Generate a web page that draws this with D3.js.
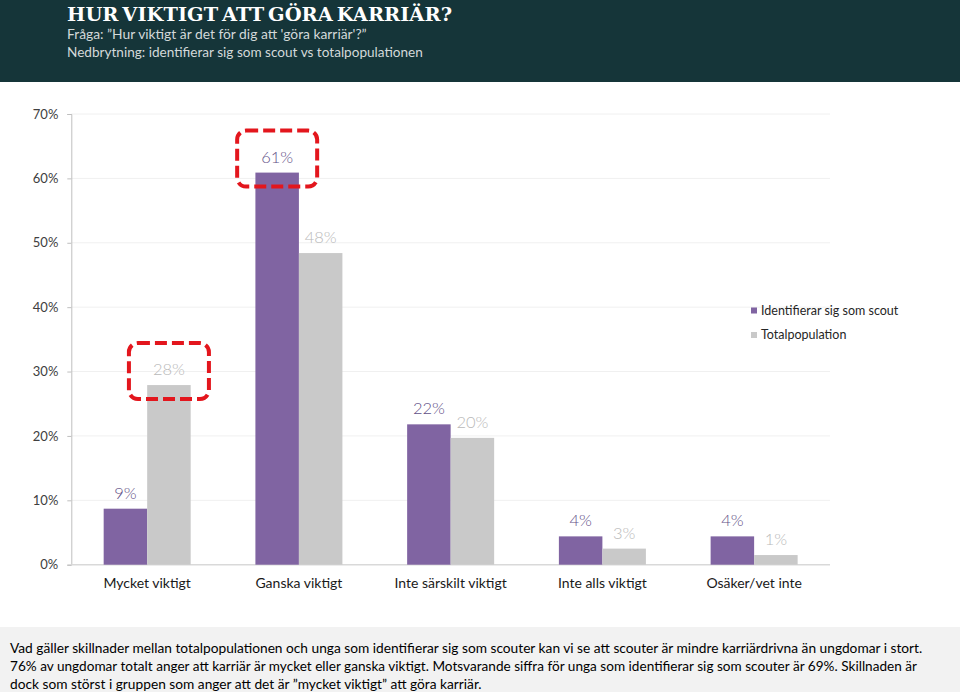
<!DOCTYPE html>
<html>
<head>
<meta charset="utf-8">
<script src="https://cdn.jsdelivr.net/npm/d3@7"></script>
<style>
  html, body { margin: 0; padding: 0; background: #fff; }
  svg { display: block; }
</style>
</head>
<body>
<svg id="chart" width="960" height="692"></svg>
<script>
// ---- data ----
const categories = ["Mycket viktigt", "Ganska viktigt", "Inte särskilt viktigt", "Inte alls viktigt", "Osäker/vet inte"];
const seriesNames = ["Identifierar sig som scout", "Totalpopulation"];
const scoutValues = [0.087, 0.609, 0.218, 0.044, 0.044];
const totalValues = [0.279, 0.484, 0.197, 0.025, 0.015];
const scoutLabels = ["9%", "61%", "22%", "4%", "4%"];
const totalLabels = ["28%", "48%", "20%", "3%", "1%"];
const yTicks = [0, 0.1, 0.2, 0.3, 0.4, 0.5, 0.6, 0.7];
const highlights = [ {category: "Mycket viktigt", series: "Totalpopulation"}, {category: "Ganska viktigt", series: "Identifierar sig som scout"} ];

const titleText = "HUR VIKTIGT ATT GÖRA KARRIÄR?";
const subtitleLines = ["Fråga: \u201DHur viktigt är det för dig att 'göra karriär'?\u201D", "Nedbrytning: identifierar sig som scout vs totalpopulationen"];
const footerLines = [
  "Vad gäller skillnader mellan totalpopulationen och unga som  identifierar sig som scouter kan vi se att scouter är mindre karriärdrivna än ungdomar i stort.",
  "76% av ungdomar totalt anger att karriär är mycket eller ganska viktigt. Motsvarande siffra för unga som identifierar sig som scouter är 69%. Skillnaden är",
  "dock som störst i gruppen som anger att det är \u201Dmycket viktigt\u201D att göra karriär."
];

// ---- build ----
(function () {
const svg = d3.select("#chart");
const W = 960, H = 692;
const colors = {"Identifierar sig som scout": "#8064a2", "Totalpopulation": "#c9c9c9"};
const labelColors = {"Identifierar sig som scout": "#5f5087", "Totalpopulation": "#b9b9b9"};
const font = "Lato, 'Open Sans', sans-serif";

// fit a text to a target width by adjusting its font size
function fitText(sel, target, baseSize) {
  sel.attr("font-size", baseSize);
  const w = sel.node().getComputedTextLength();
  const fs = Math.min(baseSize, baseSize * target / w);
  sel.attr("font-size", fs);
  const w2 = sel.node().getComputedTextLength();
  if (Math.abs(w2 - target) > 1 && w2 < target) {
    sel.attr("textLength", target).attr("lengthAdjust", "spacing");
  }
}

// header
svg.append("rect").attr("x", 0).attr("y", 0).attr("width", W).attr("height", 82).attr("fill", "#153539");
const title = svg.append("text").attr("x", 67).attr("y", 21)
  .attr("font-family", "'DejaVu Serif', serif").attr("font-weight", "bold")
  .attr("fill", "#ffffff").attr("word-spacing", -3).text(titleText);
fitText(title, 385, 21);
const subW = [300, 356];
subtitleLines.forEach((t, i) => {
  const s = svg.append("text").attr("x", 67).attr("y", 38.5 + i * 18.5)
    .attr("font-family", font).attr("fill", "#d3d9da").text(t);
  fitText(s, subW[i], 15);
});

// footer
svg.append("rect").attr("x", 0).attr("y", 627).attr("width", W).attr("height", H - 627).attr("fill", "#f2f2f2");
const footW = [913, 907, 472];
footerLines.forEach((t, i) => {
  const s = svg.append("text").attr("x", 10).attr("y", 653 + i * 18)
    .attr("font-family", font).attr("fill", "#000").text(t);
  fitText(s, footW[i], 15);
});

// scales
const pLeft = 71.3, pRight = 830, pTop = 114, pBottom = 564.7;
const x0 = d3.scaleBand().domain(categories).range([pLeft, pRight]).paddingInner(0.4266).paddingOuter(0.2133);
const x1 = d3.scaleBand().domain(seriesNames).range([0, x0.bandwidth()]);
const y = d3.scaleLinear().domain([0, 0.7]).range([pBottom, pTop]);

// gridlines
svg.append("g").selectAll("line").data(yTicks.filter(d => d > 0)).join("line")
  .attr("x1", pLeft).attr("x2", pRight).attr("y1", d => y(d)).attr("y2", d => y(d))
  .attr("stroke", "#f0f0f0").attr("stroke-width", 1);

// y axis
const yAxis = svg.append("g").attr("transform", `translate(${pLeft},0)`)
  .call(d3.axisLeft(y).tickValues(yTicks).tickFormat(d3.format(".0%")).tickSize(4).tickPadding(9));
yAxis.select(".domain").attr("stroke", "#bfbfbf");
yAxis.selectAll(".tick line").attr("stroke", "#bfbfbf");
yAxis.selectAll("text").attr("font-family", font).attr("font-size", 13).attr("fill", "#404040");

// x axis line
svg.append("line").attr("x1", pLeft).attr("x2", pRight).attr("y1", pBottom).attr("y2", pBottom)
  .attr("stroke", "#d9d9d9").attr("stroke-width", 1.5);

// bars
const rows = categories.map((c, i) => ({
  category: c,
  values: [
    {series: seriesNames[0], value: scoutValues[i], label: scoutLabels[i]},
    {series: seriesNames[1], value: totalValues[i], label: totalLabels[i]}
  ]
}));
const groups = svg.append("g").selectAll("g").data(rows).join("g")
  .attr("transform", d => `translate(${x0(d.category)},0)`);
groups.selectAll("rect").data(d => d.values).join("rect")
  .attr("x", d => x1(d.series)).attr("width", x1.bandwidth())
  .attr("y", d => y(d.value)).attr("height", d => y(0) - y(d.value))
  .attr("fill", d => colors[d.series]);
groups.selectAll("text.val").data(d => d.values).join("text").attr("class", "val")
  .attr("x", d => x1(d.series) + x1.bandwidth() / 2).attr("y", d => y(d.value) - 10)
  .attr("text-anchor", "middle").attr("font-family", font).attr("font-size", 16.5).attr("font-weight", 300)
  .attr("fill", d => labelColors[d.series]).text(d => d.label);

// category labels
svg.append("g").selectAll("text").data(categories).join("text")
  .attr("x", d => x0(d) + x0.bandwidth() / 2).attr("y", 588)
  .attr("text-anchor", "middle").attr("font-family", font).attr("font-size", 14).attr("fill", "#1a1a1a")
  .text(d => d);

// legend
const leg = svg.append("g").selectAll("g").data(seriesNames).join("g")
  .attr("transform", (d, i) => `translate(751,${307.5 + i * 24.5})`);
leg.append("rect").attr("width", 6).attr("height", 6).attr("fill", d => colors[d]);
leg.append("text").attr("x", 10).attr("y", 7).attr("font-family", font).attr("font-size", 12.5)
  .attr("fill", "#262626").text(d => d);

// highlight boxes (dashed red rounded rectangles around labels)
highlights.forEach(h => {
  const i = categories.indexOf(h.category);
  const v = h.series === seriesNames[0] ? scoutValues[i] : totalValues[i];
  const cx = x0(h.category) + x1(h.series) + x1.bandwidth() / 2;
  const yTop = y(v);
  svg.append("rect")
    .attr("x", cx - 40).attr("width", 80)
    .attr("y", yTop - 42).attr("height", 56)
    .attr("rx", 9).attr("ry", 9)
    .attr("fill", "none").attr("stroke", "#e3161d").attr("stroke-width", 4)
    .attr("stroke-dasharray", "12,5");
});
})();
</script>
</body>
</html>
